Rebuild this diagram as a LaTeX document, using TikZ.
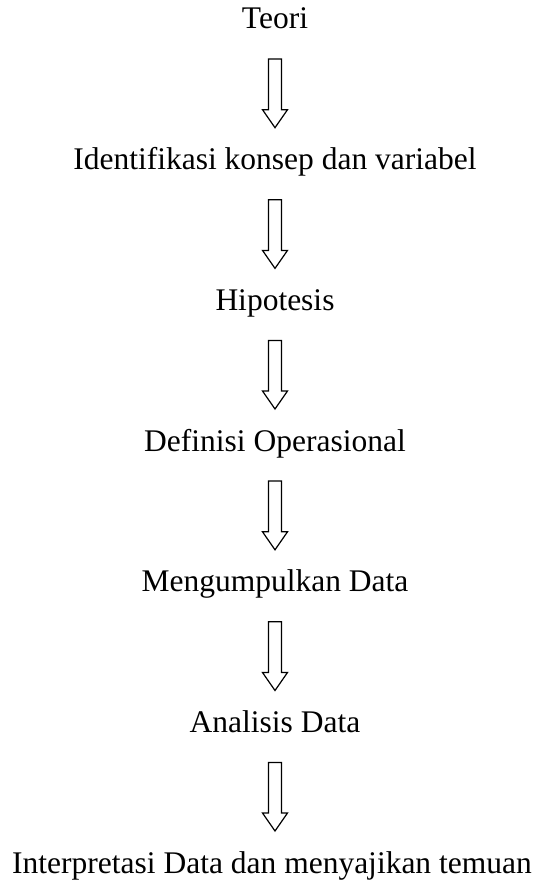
\documentclass[tikz,border=0pt]{standalone}
\usepackage{fontspec}
\setmainfont{Liberation Serif}
\usetikzlibrary{calc}

\tikzset{
  steptext/.style={anchor=base, inner sep=0pt, font=\fontsize{31.5pt}{36pt}\selectfont},
  hollowarrow/.style={draw=black, line width=1.2pt, line join=miter, fill=white}
}

% hollow block arrow from below one label to above the next,
% kept on the vertical axis of the upper label
\newcommand{\flowarrow}[2]{%
  \draw[hollowarrow]
    ($(#1.base)+(-6.5pt,-30pt)$) -- ++(13pt,0pt)
    -- ($(#1.base |- #2.base)+(6.5pt,60pt)$) -- ++(6pt,0pt)
    -- ($(#1.base |- #2.base)+(0pt,42pt)$)
    -- ($(#1.base |- #2.base)+(-12.5pt,60pt)$) -- ++(6pt,0pt)
    -- cycle;%
}

\begin{document}
\begin{tikzpicture}
  \useasboundingbox (0pt,0pt) rectangle (543pt,-880pt);

  \node[steptext] (t0) at (275pt,-29pt)    {Teori};
  \node[steptext] (t1) at (275pt,-169.7pt) {Identifikasi konsep dan variabel};
  \node[steptext] (t2) at (275pt,-310.4pt) {Hipotesis};
  \node[steptext] (t3) at (275pt,-451pt)   {Definisi Operasional};
  \node[steptext] (t4) at (275pt,-591.8pt) {Mengumpulkan Data};
  \node[steptext] (t5) at (275pt,-732.5pt) {Analisis Data};
  \node[steptext] (t6) at (272pt,-873pt)   {Interpretasi Data dan menyajikan temuan};

  \flowarrow{t0}{t1}
  \flowarrow{t1}{t2}
  \flowarrow{t2}{t3}
  \flowarrow{t3}{t4}
  \flowarrow{t4}{t5}
  \flowarrow{t5}{t6}
\end{tikzpicture}
\end{document}
